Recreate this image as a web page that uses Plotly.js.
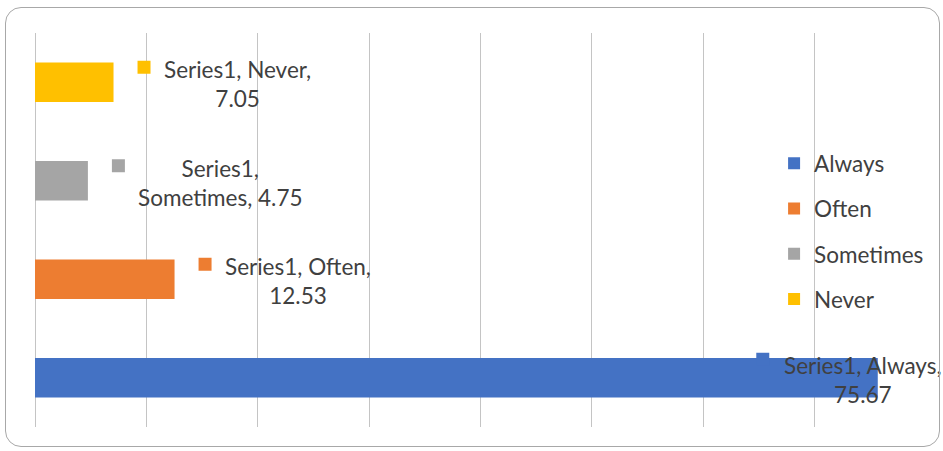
<!DOCTYPE html>
<html>
<head>
<meta charset="utf-8">
<script src="https://cdn.plot.ly/plotly-3.0.1.min.js"></script>
<style>
  html, body { margin: 0; padding: 0; background: #ffffff; }
  #wrap { position: relative; width: 943px; height: 451px; overflow: hidden; }
  #chart { position: absolute; left: 0; top: 0; width: 943px; height: 451px; }
  #frame {
    position: absolute; left: 5px; top: 7px; width: 933px; height: 438px;
    border: 1.5px solid #a8a8a8; border-radius: 16px; pointer-events: none;
  }
</style>
</head>
<body>
<div id="wrap">
  <div id="chart"></div>
  <div id="frame"></div>
</div>
<script>
// Survey answers, bottom to top
const categories = ['Always', 'Often', 'Sometimes', 'Never'];
const seriesName = 'Series1';
const percentages = [75.67, 12.53, 4.75, 7.05];
// Part of the label after which the line wraps (1 = after series name, 2 = after category)
const labelBreakAfter = [2, 2, 1, 2];

// Styling
const barColors = ['#4472C4', '#ED7D31', '#A5A5A5', '#FFC000'];
const gridColor = '#c4c4c4';
const textColor = '#404040';
const fontFamily = 'Lato, "Open Sans", sans-serif';
const fontSize = 22.5;

// Pixel offsets of each data label relative to the end of its bar
const labelOffsets = [
  { text: -96, key: -115, keyUp: 18.5, textUp: -2 },
  { text: 48, key: 30.5, keyUp: 15, textUp: -2 },
  { text: 48, key: 30.5, keyUp: 15, textUp: -2 },
  { text: 48, key: 30.5, keyUp: 15, textUp: -1.5 }
];

const traces = categories.map((cat, i) => ({
  type: 'bar',
  orientation: 'h',
  name: cat,
  legendgroup: cat,
  y: [cat],
  x: [percentages[i]],
  width: 0.4,
  marker: { color: barColors[i] },
  hoverinfo: 'skip'
}));

function labelText(i) {
  const parts = [seriesName, categories[i], percentages[i].toFixed(2)];
  const head = parts.slice(0, labelBreakAfter[i]).join(', ') + ',';
  const tail = parts.slice(labelBreakAfter[i]).join(', ');
  return head + '<br>' + tail;
}

const annotations = categories.map((cat, i) => ({
  xref: 'x', yref: 'y',
  x: percentages[i], y: cat,
  xanchor: 'left', yanchor: 'middle',
  xshift: labelOffsets[i].text, yshift: labelOffsets[i].textUp,
  align: 'center',
  showarrow: false,
  text: labelText(i),
  font: { family: fontFamily, size: fontSize, color: textColor }
}));

// Small colour key drawn beside each data label
const shapes = categories.map((cat, i) => ({
  type: 'rect',
  xref: 'x', yref: 'y',
  xsizemode: 'pixel', ysizemode: 'pixel',
  xanchor: percentages[i], yanchor: i,
  x0: labelOffsets[i].key - 6.5, x1: labelOffsets[i].key + 6.5,
  y0: labelOffsets[i].keyUp - 6.5, y1: labelOffsets[i].keyUp + 6.5,
  fillcolor: barColors[i],
  line: { width: 0 },
  layer: 'above'
}));

const layout = {
  width: 943,
  height: 451,
  margin: { l: 35, r: 17, t: 33, b: 24, pad: 0 },
  paper_bgcolor: 'rgba(0,0,0,0)',
  plot_bgcolor: 'rgba(0,0,0,0)',
  barmode: 'overlay',
  showlegend: true,
  legend: {
    x: 0.8295, xanchor: 'left',
    y: 0.723, yanchor: 'top',
    traceorder: 'grouped',
    tracegroupgap: 13,
    bgcolor: 'rgba(0,0,0,0)',
    font: { family: fontFamily, size: fontSize, color: textColor }
  },
  xaxis: {
    range: [0, 80],
    tick0: 0, dtick: 10,
    showgrid: true, gridcolor: gridColor, gridwidth: 1,
    zeroline: true, zerolinecolor: gridColor, zerolinewidth: 1,
    showline: false,
    showticklabels: false,
    ticks: '',
    fixedrange: true
  },
  yaxis: {
    type: 'category',
    categoryorder: 'array',
    categoryarray: categories,
    range: [-0.5, 3.5],
    showgrid: false, zeroline: false, showline: false,
    showticklabels: false, ticks: '',
    fixedrange: true
  },
  annotations: annotations,
  shapes: shapes,
  font: { family: fontFamily, color: textColor }
};

Plotly.newPlot('chart', traces, layout, { staticPlot: true, displayModeBar: false });
</script>
</body>
</html>
